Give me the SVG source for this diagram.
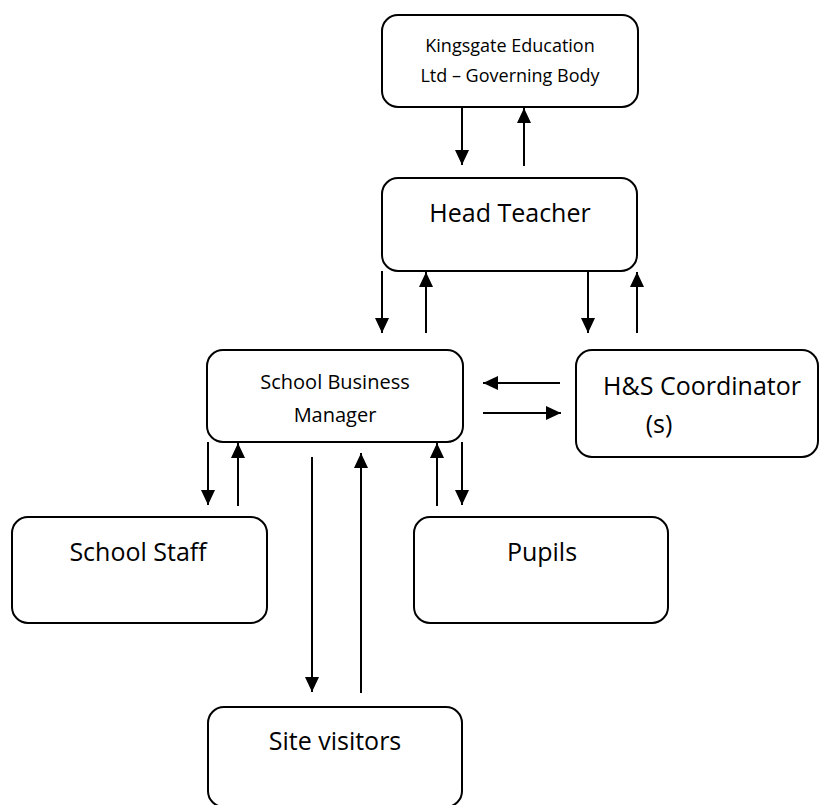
<svg xmlns="http://www.w3.org/2000/svg" width="819" height="805" viewBox="0 0 819 805">
<defs>
<marker id="ah" viewBox="0 0 15 14" refX="15" refY="7" markerWidth="15" markerHeight="14" markerUnits="userSpaceOnUse" orient="auto">
<path d="M0,0 L15,7 L0,14 z" fill="#000"/>
</marker>
</defs>
<style>
.box{fill:#fff;stroke:#000;stroke-width:2}
.t{font-family:"Open Sans","Liberation Sans",sans-serif;fill:#000;text-anchor:middle}
.c{stroke:#000;stroke-width:2;fill:none;marker-end:url(#ah)}
</style>
<rect width="819" height="805" fill="#fff"/>
<g id="kingsgate">
<rect class="box" x="382" y="15" width="256" height="92" rx="16"/>
<text class="t" x="510" y="52" font-size="18">Kingsgate Education</text>
<text class="t" x="510" y="82" font-size="18">Ltd – Governing Body</text>
</g>
<g id="head-teacher">
<rect class="box" x="382" y="178" width="255" height="93" rx="16"/>
<text class="t" x="510" y="222" font-size="25">Head Teacher</text>
</g>
<g id="sbm">
<rect class="box" x="207" y="350" width="256" height="92" rx="16"/>
<text class="t" x="335" y="389" font-size="20">School Business</text>
<text class="t" x="335" y="422" font-size="20">Manager</text>
</g>
<g id="hs-coordinator">
<rect class="box" x="576" y="350" width="242" height="107" rx="16"/>
<text class="t" x="702" y="395" font-size="25">H&amp;S Coordinator</text>
<text class="t" x="659" y="433" font-size="25">(s)</text>
</g>
<g id="school-staff">
<rect class="box" x="12" y="517" width="255" height="106" rx="16"/>
<text class="t" x="138" y="561" font-size="25">School Staff</text>
</g>
<g id="pupils">
<rect class="box" x="414" y="517" width="254" height="106" rx="16"/>
<text class="t" x="542" y="561" font-size="25">Pupils</text>
</g>
<g id="site-visitors">
<rect class="box" x="208" y="707" width="254" height="100" rx="16"/>
<text class="t" x="335" y="750" font-size="25">Site visitors</text>
</g>
<g id="connectors">
<line class="c" x1="462" y1="107" x2="462" y2="165"/>
<line class="c" x1="524" y1="166" x2="524" y2="108"/>
<line class="c" x1="382" y1="271" x2="382" y2="333"/>
<line class="c" x1="426" y1="333" x2="426" y2="272"/>
<line class="c" x1="588" y1="271" x2="588" y2="333"/>
<line class="c" x1="637" y1="333" x2="637" y2="272"/>
<line class="c" x1="560" y1="383" x2="483" y2="383"/>
<line class="c" x1="483" y1="413" x2="561" y2="413"/>
<line class="c" x1="208" y1="442" x2="208" y2="505"/>
<line class="c" x1="238" y1="506" x2="238" y2="443"/>
<line class="c" x1="312" y1="457" x2="312" y2="692"/>
<line class="c" x1="361" y1="693" x2="361" y2="453"/>
<line class="c" x1="437" y1="506" x2="437" y2="443"/>
<line class="c" x1="462" y1="442" x2="462" y2="505"/>
</g>
</svg>
